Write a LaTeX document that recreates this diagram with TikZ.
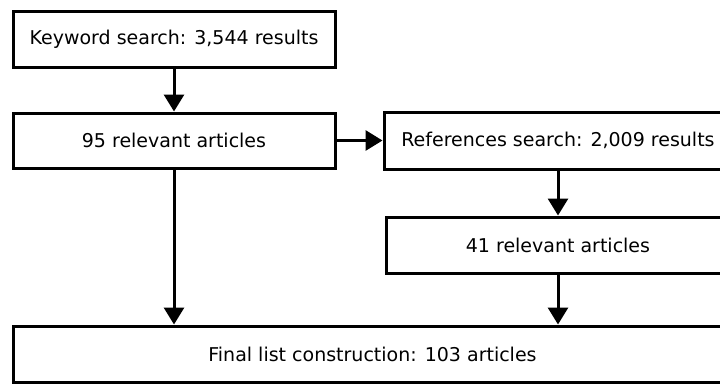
\documentclass[tikz,border=0pt]{standalone}
\usepackage{fontspec}
\setmainfont{DejaVu Sans}
\usetikzlibrary{arrows.meta}
\begin{document}
\begin{tikzpicture}[x=1pt,y=-1pt,
  box/.style={draw, line width=3pt, rectangle, inner sep=0pt,
    font=\fontsize{19}{23}\selectfont},
  arr/.style={line width=3pt, -{Triangle[length=17pt,width=20pt]}}]
  \useasboundingbox (0,0) rectangle (720,383);
  \clip (0,0) rectangle (720,383);
  % search stages
  \node[box, minimum width=322pt, minimum height=56pt] (kw) at (174,39) {Keyword search: 3,544 results};
  \node[box, minimum width=322pt, minimum height=55pt] (rel) at (174,140.5) {95 relevant articles};
  \node[box, minimum width=348pt, minimum height=57pt] (ref) at (558,140.5) {References search: 2,009 results};
  \node[box, minimum width=344pt, minimum height=56pt] (rel2) at (558,245) {41 relevant articles};
  \node[box, minimum width=719pt, minimum height=56pt] (fin) at (372.5,354) {Final list construction: 103 articles};
  % flow
  \draw[arr] (kw.south) -- (rel.north);
  \draw[arr] (rel.east) -- (ref.west);
  \draw[arr] (ref.south) -- (rel2.north);
  \draw[arr] (rel.south) -- (rel.south |- fin.north);
  \draw[arr] (rel2.south) -- (rel2.south |- fin.north);
\end{tikzpicture}
\end{document}
